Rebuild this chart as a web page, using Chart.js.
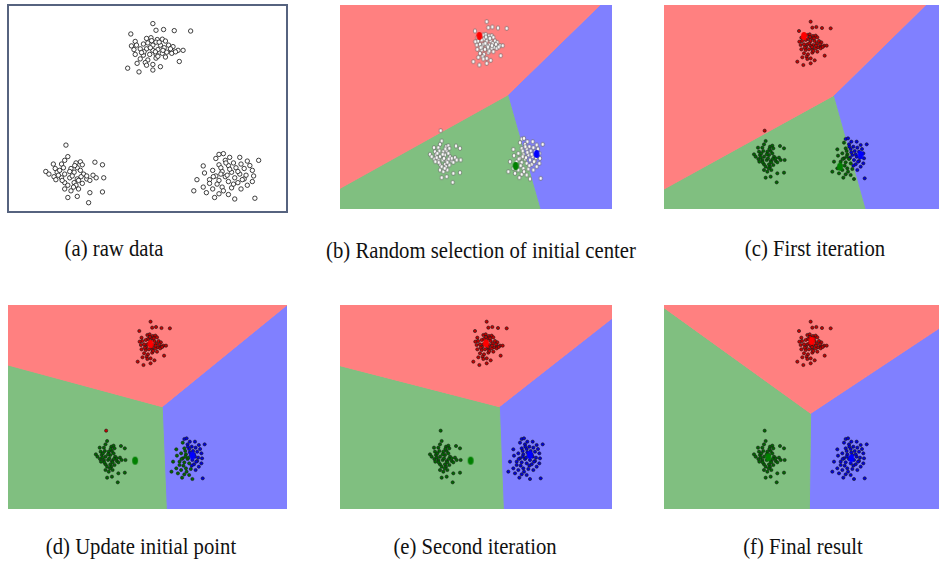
<!DOCTYPE html>
<html>
<head>
<meta charset="utf-8">
<script src="https://cdn.jsdelivr.net/npm/chart.js@4/dist/chart.umd.min.js"></script>
<style>
  html, body { margin: 0; padding: 0; background: #fff; }
  body { width: 941px; height: 564px; position: relative; overflow: hidden; }
  .panel { position: absolute; display: block; }
  .frame { position: absolute; box-sizing: border-box; border: 2px solid #56637f; pointer-events: none; }
  .cap {
    position: absolute; white-space: nowrap; color: #111;
    font-family: "Liberation Serif", "Times New Roman", serif;
    font-size: 23px; line-height: 23px;
    transform: translateX(-50%) scaleX(0.9);
  }
</style>
</head>
<body>
<script>
// ---- cluster samples (shared data coordinates, y grows downward) ----
const clusterTop = [
  [440,50],[445,68],[457,66],[474,69],[500,70],[405,78],[412,98],[430,90],[437,88],[447,93],
  [455,92],[460,97],[445,100],[432,102],[425,105],[440,108],[452,108],[465,108],[472,112],[480,122],
  [488,122],[470,125],[462,127],[448,120],[440,122],[430,118],[420,118],[410,120],[412,133],[425,135],
  [435,133],[445,132],[455,130],[470,130],[420,145],[432,148],[445,143],[415,157],[428,155],[440,160],
  [452,166],[400,170],[418,180],[440,175],[482,152],[458,115],[436,115],[426,126],[448,138],[414,108],
  [460,140],[430,162],[468,118],[476,126],[456,122],[444,126],[422,128],[406,110],[450,100],[438,96]
];
const clusterLeft = [
  [302,377],[305,408],[300,418],[282,428],[295,428],[318,425],[325,422],[348,423],[360,430],[285,440],
  [298,438],[310,440],[320,438],[270,448],[288,450],[300,455],[315,450],[330,455],[345,458],[283,462],
  [295,465],[308,465],[320,468],[335,468],[362,465],[300,478],[315,478],[328,480],[318,485],[300,495],
  [310,500],[340,505],[360,503],[305,518],[320,515],[338,532],[290,458],[325,445],[312,460],[335,460],
  [275,455],[305,485],[322,495],[292,445],[316,432],[328,430],[340,472],[296,472],[308,448],[326,462],
  [286,470],[314,490],[350,465],[322,472]
];
const clusterRight = [
  [545,402],[552,400],[562,410],[578,410],[590,420],[608,418],[540,413],[555,418],[568,425],[580,428],
  [520,433],[545,430],[560,432],[572,438],[585,440],[598,445],[535,445],[550,448],[565,450],[578,455],
  [600,460],[522,452],[540,460],[555,462],[570,465],[585,468],[598,475],[545,472],[560,475],[575,478],
  [590,485],[510,470],[530,470],[520,490],[535,495],[550,490],[565,492],[580,495],[505,500],[525,505],
  [545,508],[560,510],[538,518],[570,522],[602,520],[548,438],[562,442],[575,448],[558,458],[542,482],
  [568,482],[552,500],[530,480],[588,458],[594,432],[556,425],[582,470],[548,455],[536,462]
];

// ---- cluster centres per step: [red, green, blue] ----
const centersInit   = [[418,93],[527,483],[590,447]];
const centersIter1  = [[420,93],[528,485],[590,450]];
const centersUpdate = [[440,117],[392,467],[570,452]];
const centersIter2  = [[438,115],[392,467],[570,450]];
const centersFinal  = [[443,108],[313,457],[562,460]];

// ---- decision regions per step: [red, green, blue] polygons ----
const regionsInit = [
  [[0,0],[780,0],[503,270],[0,550]],
  [[0,550],[503,270],[600,612],[0,612]],
  [[780,0],[816,0],[816,612],[600,612],[503,270]]
];
const regionsIter1 = [
  [[0,0],[785,0],[508,272],[0,552]],
  [[0,552],[508,272],[603,612],[0,612]],
  [[785,0],[825,0],[825,612],[603,612],[508,272]]
];
const regionsUpdate = [
  [[-3,0],[864,0],[476,305],[-3,180]],
  [[-3,180],[476,305],[489,612],[-3,612]],
  [[864,0],[864,612],[489,612],[476,305]]
];
const regionsIter2 = [
  [[0,0],[816,0],[816,40],[478,305],[0,182]],
  [[0,182],[478,305],[490,612],[0,612]],
  [[816,40],[816,612],[490,612],[478,305]]
];
const regionsFinal = [
  [[0,0],[825,0],[825,70],[440,325],[0,8]],
  [[0,8],[440,325],[436,612],[0,612]],
  [[825,70],[825,612],[436,612],[440,325]]
];

const captions = [
  '(a) raw data',
  '(b) Random selection of initial center',
  '(c) First iteration',
  '(d) Update initial point',
  '(e) Second iteration',
  '(f) Final result'
];

// ---- styling ----
const regionColors = ['#ff8080', '#80bf80', '#8080ff'];
const centerColors = ['#ff0000', '#008000', '#0000ff'];
const pointColors  = ['#c80000', '#006a00', '#0000e0'];

// ---- layout of the six panels ----
const panels = [
  { left: 8,   top: 5,   w: 279, h: 207, x: [210, 653], y: [0, 557], mode: 'raw',
    cap: { x: 114, y: 237 } },
  { left: 340, top: 5,   w: 272, h: 204, x: [0, 816],   y: [0, 612], mode: 'white',
    regions: regionsInit, centers: centersInit, cap: { x: 481, y: 239 } },
  { left: 664, top: 5,   w: 275, h: 204, x: [0, 825],   y: [0, 612], mode: 'color',
    regions: regionsIter1, centers: centersIter1, assignBy: regionsInit, cap: { x: 815, y: 237 } },
  { left: 8,   top: 305, w: 279, h: 204, x: [-3, 864],  y: [0, 612], mode: 'color',
    regions: regionsUpdate, centers: centersUpdate, assignBy: regionsIter1, cap: { x: 141, y: 535 } },
  { left: 340, top: 305, w: 272, h: 204, x: [0, 816],   y: [0, 612], mode: 'color',
    regions: regionsIter2, centers: centersIter2, assignBy: regionsUpdate, cap: { x: 475, y: 535 } },
  { left: 664, top: 305, w: 275, h: 204, x: [0, 825],   y: [0, 612], mode: 'color',
    regions: regionsFinal, centers: centersFinal, assignBy: regionsIter2, cap: { x: 803, y: 535 } }
];

function inPolygon(p, poly) {
  let inside = false;
  for (let i = 0, j = poly.length - 1; i < poly.length; j = i++) {
    const [xi, yi] = poly[i], [xj, yj] = poly[j];
    if ((yi > p[1]) !== (yj > p[1]) && p[0] < (xj - xi) * (p[1] - yi) / (yj - yi) + xi) inside = !inside;
  }
  return inside;
}
function regionOf(p, regions) {
  for (let k = 0; k < regions.length; k++) if (inPolygon(p, regions[k])) return k;
  return 0;
}
function ellipseMarker(fill, rx, ry, stroke, lw) {
  const c = document.createElement('canvas');
  c.width = Math.ceil(rx * 2 + 2); c.height = Math.ceil(ry * 2 + 2);
  const g = c.getContext('2d');
  g.beginPath();
  g.ellipse(c.width / 2, c.height / 2, rx, ry, 0, 0, Math.PI * 2);
  g.fillStyle = fill; g.fill();
  if (stroke) { g.lineWidth = lw; g.strokeStyle = stroke; g.stroke(); }
  return c;
}
const toXY = a => a.map(([x, y]) => ({ x, y }));
const allPoints = clusterTop.concat(clusterLeft, clusterRight);

panels.forEach((P, idx) => {
  const cv = document.createElement('canvas');
  cv.className = 'panel';
  cv.width = P.w; cv.height = P.h;
  cv.style.left = P.left + 'px'; cv.style.top = P.top + 'px';
  cv.style.width = P.w + 'px'; cv.style.height = P.h + 'px';
  document.body.appendChild(cv);

  const datasets = [];
  if (P.regions) {
    P.regions.forEach((poly, k) => {
      datasets.push({
        data: toXY(poly.concat([poly[0]])),
        showLine: true, fill: 'shape', tension: 0,
        backgroundColor: regionColors[k], borderColor: regionColors[k], borderWidth: 1,
        pointRadius: 0, order: 3
      });
    });
  }
  if (P.mode === 'raw') {
    datasets.push({
      data: toXY(allPoints), pointStyle: 'circle', pointRadius: 2.2,
      backgroundColor: '#ffffff', borderColor: '#111111', borderWidth: 0.8, order: 2
    });
  } else if (P.mode === 'white') {
    datasets.push({
      data: toXY(allPoints), pointStyle: ellipseMarker('#ffffff', 1.6, 2.1, '#555555', 0.6),
      pointRadius: 2, order: 2
    });
  } else {
    const groups = [[], [], []];
    allPoints.forEach(p => groups[regionOf(p, P.assignBy)].push(p));
    groups.forEach((g, k) => datasets.push({
      data: toXY(g), pointStyle: 'circle', pointRadius: 1.6,
      backgroundColor: pointColors[k], borderColor: '#1a1a1a', borderWidth: 0.6, order: 2
    }));
  }
  if (P.centers) {
    P.centers.forEach((c, k) => datasets.push({
      data: toXY([c]), pointStyle: ellipseMarker(centerColors[k], 2.9, 3.9), pointRadius: 4, order: 1
    }));
  }

  new Chart(cv, {
    type: 'scatter',
    data: { datasets },
    options: {
      responsive: false, animation: false, events: [],
      layout: { padding: 0, autoPadding: false },
      plugins: { legend: { display: false }, tooltip: { enabled: false } },
      scales: {
        x: { type: 'linear', min: P.x[0], max: P.x[1], display: false },
        y: { type: 'linear', min: P.y[0], max: P.y[1], reverse: true, display: false }
      }
    }
  });

  if (P.mode === 'raw') {
    const fr = document.createElement('div');
    fr.className = 'frame';
    fr.style.left = (P.left - 1) + 'px'; fr.style.top = (P.top - 1) + 'px';
    fr.style.width = (P.w + 2) + 'px'; fr.style.height = (P.h + 2) + 'px';
    document.body.appendChild(fr);
  }

  const cap = document.createElement('div');
  cap.className = 'cap';
  cap.textContent = captions[idx];
  cap.style.left = P.cap.x + 'px'; cap.style.top = P.cap.y + 'px';
  document.body.appendChild(cap);
});
</script>
</body>
</html>
